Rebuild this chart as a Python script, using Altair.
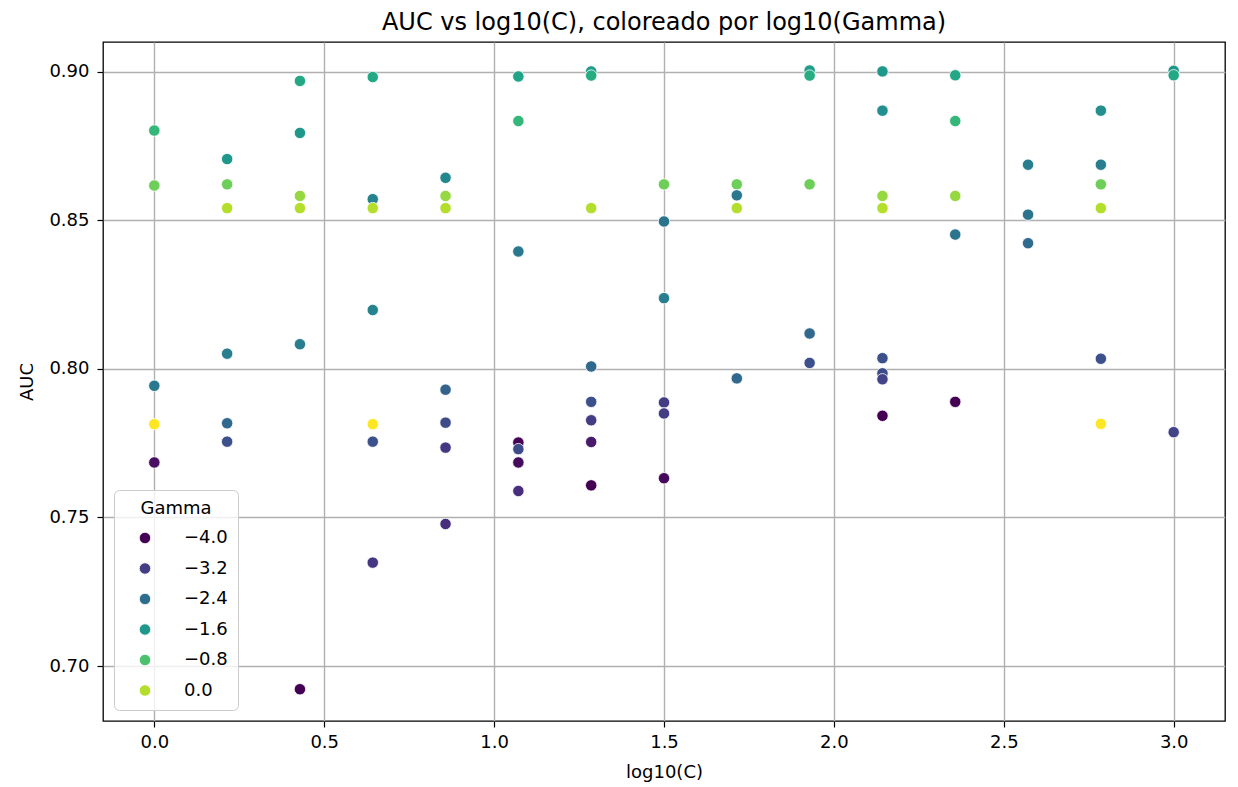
import altair as alt
import pandas as pd

# log10(C) values of each point (C grid: 15 values between 1 and 1000)
c_log = (
    [0.0] * 5
    + [0.2143] * 6
    + [0.4286] * 6
    + [0.6429] * 7
    + [0.8571] * 7
    + [1.0714] * 7
    + [1.2857] * 8
    + [1.5] * 6
    + [1.7143] * 4
    + [1.9286] * 5
    + [2.1429] * 8
    + [2.3571] * 5
    + [2.5714] * 3
    + [2.7857] * 6
    + [3.0] * 3
)

auc = [
    0.8802, 0.8617, 0.7943, 0.7814, 0.7685,
    0.8706, 0.8621, 0.8541, 0.8051, 0.7817, 0.7755,
    0.8969, 0.8794, 0.8582, 0.8541, 0.8083, 0.6922,
    0.8982, 0.8571, 0.8541, 0.8198, 0.7814, 0.7755, 0.7348,
    0.8643, 0.8582, 0.8541, 0.7930, 0.7819, 0.7735, 0.7478,
    0.8984, 0.8834, 0.8395, 0.7752, 0.7730, 0.7685, 0.7589,
    0.9001, 0.8987, 0.8541, 0.8008, 0.7889, 0.7827, 0.7754, 0.7608,
    0.8621, 0.8496, 0.8238, 0.7887, 0.7850, 0.7632,
    0.8621, 0.8584, 0.8541, 0.7968,
    0.9004, 0.8987, 0.8621, 0.8119, 0.8020,
    0.9001, 0.8869, 0.8582, 0.8541, 0.8036, 0.7985, 0.7965, 0.7842,
    0.8988, 0.8834, 0.8582, 0.8452, 0.7889,
    0.8687, 0.8519, 0.8423,
    0.8869, 0.8687, 0.8621, 0.8541, 0.8034, 0.7815,
    0.9003, 0.8988, 0.7787,
]

gamma_log = [
    -1.0, -0.5, -2.2, 0.5, -3.85,
    -1.6, -0.5, 0.0, -2.1, -2.5, -2.9,
    -1.3, -1.6, -0.2, 0.0, -2.1, -4.0,
    -1.3, -2.0, 0.0, -2.0, 0.5, -2.9, -3.3,
    -1.9, -0.2, 0.0, -2.6, -3.0, -3.3, -3.4,
    -1.4, -1.0, -2.2, -4.0, -3.0, -3.9, -3.4,
    -1.5, -1.2, 0.0, -2.5, -2.9, -3.2, -3.7, -4.0,
    -0.5, -2.3, -2.1, -3.2, -3.2, -3.9,
    -0.5, -2.2, 0.0, -2.5,
    -1.5, -1.2, -0.5, -2.5, -2.9,
    -1.6, -1.8, -0.2, 0.0, -2.9, -3.0, -3.1, -4.0,
    -1.3, -1.0, -0.2, -2.3, -4.0,
    -2.1, -2.3, -2.45,
    -1.8, -2.1, -0.5, 0.0, -2.9, 0.5,
    -1.6, -1.3, -3.1,
]

x_ticks = [0.0, 0.5, 1.0, 1.5, 2.0, 2.5, 3.0]
y_ticks = [0.70, 0.75, 0.80, 0.85, 0.90]
legend_values = [-4.0, -3.2, -2.4, -1.6, -0.8, 0.0]

df = pd.DataFrame({"log10(C)": c_log, "AUC": auc, "Gamma": gamma_log})

FONT = "DejaVu Sans"

chart = (
    alt.Chart(df)
    .mark_circle(size=130, opacity=1, stroke="white", strokeWidth=0.8)
    .encode(
        x=alt.X(
            "log10(C):Q",
            title="log10(C)",
            scale=alt.Scale(domain=[-0.151, 3.151], nice=False, zero=False),
            axis=alt.Axis(values=x_ticks, format=".1f"),
        ),
        y=alt.Y(
            "AUC:Q",
            title="AUC",
            scale=alt.Scale(domain=[0.6815, 0.910], nice=False, zero=False),
            axis=alt.Axis(values=y_ticks, format=".2f"),
        ),
        color=alt.Color(
            "Gamma:Q",
            scale=alt.Scale(scheme="viridis", domain=[-4.0, 0.5]),
            legend=alt.Legend(
                type="symbol",
                values=legend_values,
                format=".1f",
                title="Gamma",
                orient="none",
                legendX=11,
                legendY=448,
                padding=10,
                fillColor="rgba(255,255,255,0.8)",
                strokeColor="#cccccc",
                cornerRadius=5,
                titleFontSize=18,
                titleFont=FONT,
                titleFontWeight="normal",
                titleColor="black",
                titleAnchor="middle",
                titlePadding=11,
                labelFontSize=18,
                labelFont=FONT,
                labelColor="black",
                labelOffset=30,
                symbolSize=130,
                symbolType="circle",
                symbolOffset=12,
                symbolStrokeColor="white",
                symbolStrokeWidth=0.8,
                rowPadding=12.5,
            ),
        ),
    )
    .properties(
        width=1122,
        height=679,
        title=alt.TitleParams(
            "AUC vs log10(C), coloreado por log10(Gamma)",
            fontSize=24,
            font=FONT,
            fontWeight="normal",
            color="black",
            anchor="middle",
            offset=7,
        ),
        autosize=alt.AutoSizeParams(type="none"),
        padding={"left": 103, "top": 42, "right": 13, "bottom": 66},
    )
    .configure_view(stroke="black", strokeWidth=1.3)
    .configure_axis(
        domain=False,
        grid=True,
        gridColor="#b0b0b0",
        gridWidth=1.4,
        tickColor="black",
        tickSize=6,
        tickWidth=1.2,
        labelFont=FONT,
        labelFontSize=18,
        labelColor="black",
        titleFont=FONT,
        titleFontSize=18,
        titleFontWeight="normal",
        titleColor="black",
    )
    .configure_axisX(labelPadding=6, titlePadding=12)
    .configure_axisY(labelPadding=8, titlePadding=12)
)

chart.save("out.html", embed_options={"renderer": "svg", "actions": False})
